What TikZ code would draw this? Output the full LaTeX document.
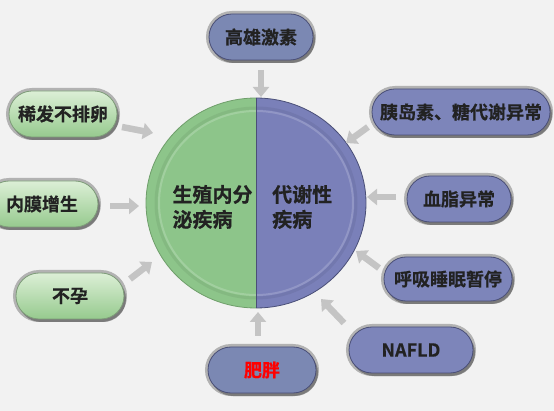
\documentclass[tikz,border=0pt]{standalone}
\usepackage{fontspec}
\setmainfont{Noto Sans CJK SC}[BoldFont={Noto Sans CJK SC Bold},BoldFeatures={FakeBold=0.6}]
\usetikzlibrary{arrows.meta,shadows}
\definecolor{bg}{HTML}{F2F2F2}
\definecolor{arrowgray}{HTML}{C4C4C4}
\definecolor{ringgray}{HTML}{B2B2B2}
\definecolor{greenA}{HTML}{DCEFD6}
\definecolor{greenB}{HTML}{96CA8E}
\definecolor{greenline}{HTML}{7E9C79}
\definecolor{blueFill}{HTML}{7D85BA}
\definecolor{blueGray}{HTML}{7B88B3}
\definecolor{blueline}{HTML}{4A4F77}
\definecolor{greenedge}{HTML}{6F9E6B}
\definecolor{circGreen}{HTML}{8DC58A}
\definecolor{circBlue}{HTML}{7A80B9}
\definecolor{txt}{HTML}{222222}
\tikzset{
  pill/.style={rounded corners=23pt, minimum height=46pt, inner sep=0pt,
    line width=0.8pt, text=txt,
    font=\fontsize{18}{20}\selectfont\bfseries,
    preaction={draw=ringgray, line width=6pt},
    drop shadow={shadow xshift=2pt, shadow yshift=-3pt, fill=black!70, opacity=0.55}},
  greenpill/.style={pill, draw=greenline, top color=greenA, bottom color=greenB},
  bluepill/.style={pill, draw=blueline, fill=blueFill},
  graypill/.style={pill, draw=blueline, fill=blueGray},
  feed/.style={draw=arrowgray, line width=6.5pt, -{Triangle[width=16pt,length=10pt]}},
  circtext/.style={text=txt, align=left, inner sep=0pt, font=\fontsize{20}{25}\selectfont\bfseries}
}
\begin{document}
\begin{tikzpicture}[x=1pt,y=-1pt]
\fill[bg] (0,0) rectangle (554,411);
\useasboundingbox (0,0) rectangle (554,411);
\clip (0,0) rectangle (554,411);

% central circle
\coordinate (c) at (256,203);
\fill[circGreen] (256,98) arc[start angle=-90,end angle=-270,x radius=110,y radius=105] -- cycle;
\fill[circBlue] (256,98) arc[start angle=-90,end angle=90,x radius=110,y radius=105] -- cycle;
\draw[white, opacity=0.18, line width=2pt] (c) ellipse[x radius=97,y radius=92];
\draw[black, opacity=0.06, line width=3pt] (c) ellipse[x radius=100,y radius=95];
\draw[greenedge, line width=0.8pt] (256,98) arc[start angle=-90,end angle=-270,x radius=110,y radius=105];
\draw[blueline, line width=0.8pt] (256,98) arc[start angle=-90,end angle=90,x radius=110,y radius=105];
\draw[blueline, line width=0.6pt] (256,98) -- (256,308);
\node[circtext] (lt) at (212.5,207) {生殖内分\\泌疾病};
\node[circtext, anchor=west] (rt) at (272,207) {代谢性\\疾病};

% pills
\node[graypill, minimum width=104pt] (p1) at (261,37) {高雄激素};
\node[greenpill, minimum width=108pt] (p2) at (63,114) {稀发不排卵};
\node[greenpill, minimum width=112pt] (p3) at (42,204) {内膜增生};
\node[greenpill, minimum width=108pt] (p4) at (70,296) {不孕};
\node[bluepill, minimum width=178pt] (p5) at (461,112) {胰岛素、糖代谢异常};
\node[bluepill, minimum width=104pt] (p6) at (459,199) {血脂异常};
\node[bluepill, minimum width=128pt, minimum height=44pt, rounded corners=22pt] (p7) at (448,279) {呼吸睡眠暂停};
\node[bluepill, minimum width=124pt] (p8) at (411,350) {NAFLD};
\node[graypill, minimum width=108pt, text=red] (p9) at (262,370) {肥胖};

% arrow end points
\coordinate (a1s) at (261,70);  \coordinate (a1e) at (261,97);
\coordinate (a2s) at (122,127); \coordinate (a2e) at (153,133);
\coordinate (a3s) at (110,206); \coordinate (a3e) at (139,206);
\coordinate (a4s) at (130,279); \coordinate (a4e) at (152,262);
\coordinate (a5s) at (368,127); \coordinate (a5e) at (346,143);
\coordinate (a6s) at (396,197); \coordinate (a6e) at (367,197);
\coordinate (a7s) at (379,268); \coordinate (a7e) at (356,251);
\coordinate (a8s) at (344,323); \coordinate (a8e) at (321,299);
\coordinate (a9s) at (258,336); \coordinate (a9e) at (258,312);

\draw[feed] (a1s) -- (a1e);
\draw[feed] (a2s) -- (a2e);
\draw[feed] (a3s) -- (a3e);
\draw[feed] (a4s) -- (a4e);
\draw[feed] (a5s) -- (a5e);
\draw[feed] (a6s) -- (a6e);
\draw[feed] (a7s) -- (a7e);
\draw[feed] (a8s) -- (a8e);
\draw[feed] (a9s) -- (a9e);
\end{tikzpicture}
\end{document}
